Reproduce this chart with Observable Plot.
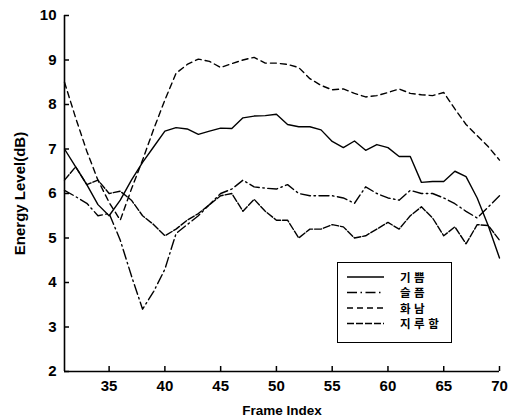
<!DOCTYPE html>
<html><head><meta charset="utf-8">
<script src="https://cdn.jsdelivr.net/npm/d3@7"></script>
<script src="https://cdn.jsdelivr.net/npm/@observablehq/plot@0.6"></script>
<style>
body{margin:0;background:#fff;}
#wrap{position:relative;width:510px;height:419px;overflow:hidden;}
#legend{position:absolute;left:337px;top:262px;width:115px;height:81px;border:1.5px solid #000;background:#fff;box-sizing:border-box;}
</style></head><body><div id="wrap"></div>
<script>
const frames = [31,32,33,34,35,36,37,38,39,40,41,42,43,44,45,46,47,48,49,50,51,52,53,54,55,56,57,58,59,60,61,62,63,64,65,66,67,68,69,70];
const joy   = [7.0,6.6,6.2,5.75,5.5,5.85,6.3,6.7,7.05,7.4, 7.48,7.45,7.33,7.4,7.47,7.46,7.7,7.74,7.75,7.78, 7.55,7.5,7.5,7.43,7.17,7.03,7.18,6.97,7.1,7.03, 6.83,6.83,6.25,6.27,6.27,6.5,6.38,5.9,5.27,4.55];
const sad   = [6.07,5.93,5.78,5.5,5.55,4.95,4.15,3.4,3.8,4.3, 5.1,5.3,5.5,5.75,6.0,6.1,6.3,6.15,6.12,6.1, 6.2,6.0,5.95,5.95,5.95,5.9,5.78,6.15,6.0,5.9, 5.85,6.07,6.0,6.0,5.9,5.77,5.6,5.45,5.7,5.95];
const anger = [8.5,7.7,6.95,6.3,5.8,5.4,6.1,6.75,7.45,8.1, 8.7,8.9,9.02,8.97,8.83,8.92,9.0,9.06,8.93,8.93, 8.9,8.83,8.58,8.43,8.33,8.35,8.25,8.17,8.2,8.27, 8.35,8.25,8.22,8.2,8.27,7.9,7.55,7.3,7.05,6.75];
const bored = [6.3,6.6,6.2,6.3,6.0,6.05,5.85,5.5,5.3,5.05, 5.2,5.4,5.55,5.75,5.95,6.0,5.6,5.87,5.6,5.4, 5.4,5.0,5.2,5.2,5.3,5.25,5.0,5.05,5.2,5.35, 5.2,5.5,5.7,5.45,5.05,5.25,4.87,5.3,5.28,4.95];
const seriesNames = ["기쁨","슬픔","화남","지루함"];
const xTicks = [35,40,45,50,55,60,65,70];
const yTicks = [2,3,4,5,6,7,8,9,10];

const seriesValues = [joy, sad, anger, bored];
const dashStyles = [null, "10,3.5,1.5,3.5", "6,4", "7,2"];

const rows = seriesNames.flatMap((name, i) =>
  frames.map((f, j) => ({frame: f, value: seriesValues[i][j], series: name})));

const lineMarks = seriesNames.map((name, i) =>
  Plot.line(rows.filter(d => d.series === name), {
    x: "frame", y: "value", stroke: "#000", strokeWidth: 1.4,
    strokeDasharray: dashStyles[i] || undefined
  }));

const chart = Plot.plot({
  width: 510, height: 419,
  marginLeft: 64, marginRight: 11, marginTop: 15, marginBottom: 48,
  style: {fontFamily: "'Liberation Sans', Arial, sans-serif", fontSize: "15px", color: "#000", background: "#fff"},
  x: {domain: [31, 70]},
  y: {domain: [2, 10]},
  marks: [
    ...lineMarks,
    Plot.axisX(xTicks, {tickSize: -5, tickPadding: 14, fontSize: 15, fontWeight: "bold", strokeWidth: 1.5, label: null}),
    Plot.axisY(yTicks, {tickSize: -5, tickPadding: 13, fontSize: 15, fontWeight: "bold", strokeWidth: 1.5, label: null}),
    Plot.axisX({ticks: [], label: "Frame Index", labelAnchor: "center", labelOffset: 43, labelArrow: "none", fontSize: 13.5, fontWeight: "bold", tickSize: 0}),
    Plot.axisY({ticks: [], label: "Energy Level(dB)", labelAnchor: "center", labelOffset: 50, labelArrow: "none", fontSize: 15, fontWeight: "bold", tickSize: 0}),
    Plot.ruleX([31], {strokeWidth: 1.6}),
    Plot.ruleY([2], {strokeWidth: 1.6})
  ]
});
const wrap = document.getElementById("wrap");
wrap.appendChild(chart);

// legend inside the plot area
const legend = document.createElement("div");
legend.id = "legend";
wrap.appendChild(legend);
const lsvg = d3.select(legend).append("svg").attr("width", 112).attr("height", 78);
seriesNames.forEach((name, i) => {
  const yy = 14 + i * 15.5;
  lsvg.append("line").attr("x1", 9).attr("x2", 46).attr("y1", yy).attr("y2", yy)
    .attr("stroke", "#000").attr("stroke-width", 1.4)
    .attr("stroke-dasharray", dashStyles[i] || null);
  lsvg.append("text").attr("x", 62).attr("y", yy + 4.5).text(name)
    .attr("font-family", "'Noto Sans CJK KR', sans-serif").attr("font-size", 11.5)
    .attr("font-weight", "bold").attr("letter-spacing", 3.5);
});
</script></body></html>
